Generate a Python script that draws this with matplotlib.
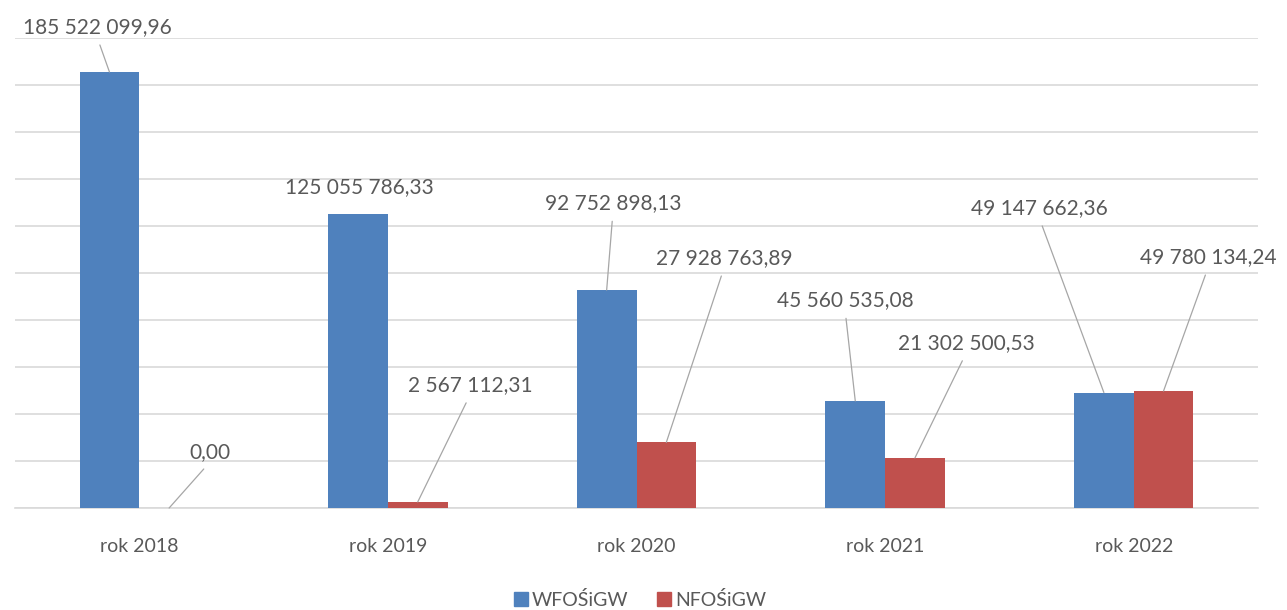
import numpy as np
import matplotlib.pyplot as plt
from matplotlib.patches import Patch

# dane z wykresu
lata = ["rok 2018", "rok 2019", "rok 2020", "rok 2021", "rok 2022"]
wfosigw = [185522099.96, 125055786.33, 92752898.13, 45560535.08, 49147662.36]
nfosigw = [0.00, 2567112.31, 27928763.89, 21302500.53, 49780134.24]
serie = ["WFOŚiGW", "NFOŚiGW"]

# polozenie etykiet (srodek tekstu): przesuniecie w kategoriach, wysokosc w mln
pos_w = [(-0.17, 204.7), (0.887, 136.6), (1.905, 129.8), (2.839, 88.5), (3.62, 127.7)]
pos_n = [(0.284, 23.8), (1.33, 52.3), (2.352, 106.4), (3.326, 70.2), (4.30, 106.8)]
linia_w = [True, False, True, True, True]

niebieski = "#4f81bd"
czerwony = "#c0504d"
szary_txt = "#595959"
szary_lin = "#d9d9d9"

plt.rcParams["font.family"] = ["Lato", "DejaVu Sans"]


def fmt(v):
    s = f"{v:,.2f}"
    return s.replace(",", " ").replace(".", ",")


fig = plt.figure(figsize=(12.87, 6.10), dpi=100)
ax = fig.add_axes([15 / 1287, 102 / 610, 1243 / 1287, 470 / 610])

x = np.arange(len(lata))
w = 0.24
ax.bar(x - w / 2, wfosigw, width=w, color=niebieski, zorder=3)
ax.bar(x + w / 2, nfosigw, width=w, color=czerwony, zorder=3)

ax.set_xlim(-0.5, len(lata) - 0.5)
ax.set_ylim(0, 200e6)
ax.set_yticks(np.arange(0, 200e6 + 1, 20e6))
ax.yaxis.grid(True, color=szary_lin, lw=1.2)
ax.set_axisbelow(True)
ax.tick_params(axis="y", left=False, labelleft=False)
ax.tick_params(axis="x", bottom=False, labelsize=14, labelcolor=szary_txt, pad=18)
ax.set_xticks(x)
ax.set_xticklabels(lata)
for s in ["left", "right", "top"]:
    ax.spines[s].set_visible(False)
ax.spines["bottom"].set_color(szary_lin)
ax.spines["bottom"].set_linewidth(1.2)

lp = dict(arrowstyle="-", color="#a6a6a6", lw=0.9, shrinkA=4, shrinkB=0,
          relpos=(0.5, 0.0))
for i in range(len(lata)):
    tx, ty = pos_w[i]
    ax.annotate(fmt(wfosigw[i]), xy=(i - w / 2, wfosigw[i]), xytext=(tx, ty * 1e6),
                ha="center", va="center", fontsize=15, color=szary_txt,
                annotation_clip=False,
                arrowprops=lp if linia_w[i] else None)
    tx, ty = pos_n[i]
    ax.annotate(fmt(nfosigw[i]), xy=(i + w / 2, nfosigw[i]), xytext=(tx, ty * 1e6),
                ha="center", va="center", fontsize=15, color=szary_txt,
                annotation_clip=False, arrowprops=lp)

uchwyty = [Patch(color=niebieski), Patch(color=czerwony)]
fig.legend(uchwyty, serie, loc="center", bbox_to_anchor=(640 / 1287, 1 - 600 / 610),
           ncol=2, frameon=False, fontsize=14, labelcolor=szary_txt,
           handlelength=0.7, handleheight=0.7, handletextpad=0.2, columnspacing=1.5)

fig.savefig("out.png", dpi=100)
